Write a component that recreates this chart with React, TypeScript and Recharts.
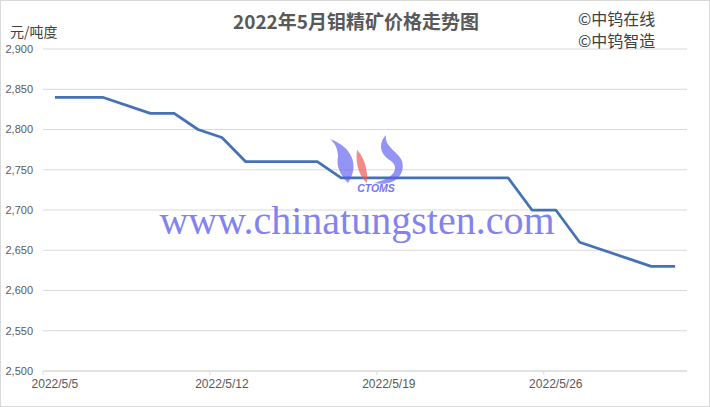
import React from "react"
import { LineChart, Line, XAxis, YAxis, CartesianGrid } from "recharts"

// 交易日（5月的日期）与价格，元/吨度
const days = [5, 6, 7, 9, 10, 11, 12, 13, 16, 17, 18, 19, 20, 23, 24, 25, 26, 27, 30, 31]
const prices = [
  2840, 2840, 2840, 2820, 2820, 2800, 2790, 2760, 2760, 2740,
  2740, 2740, 2740, 2740, 2740, 2700, 2700, 2660, 2630, 2630,
]
const xTicks = [5, 12, 19, 26]
const yTicks = [2500, 2550, 2600, 2650, 2700, 2750, 2800, 2850, 2900]

const data = days.map((d, i) => ({ day: d, price: prices[i] }))

const W = 710
const H = 407
const sans = "'Liberation Sans', Arial, sans-serif"
const cjk = "'Noto Sans CJK SC', 'Liberation Sans', sans-serif"

const DateTick = ({ x, y, payload }: any) => (
  <g>
    <line x1={x - 12} x2={x - 12} y1={y} y2={y + 4} stroke="#d9d9d9" />
    <text x={x} y={y + 17} textAnchor="middle" fill="#595959" fontSize={12} fontFamily={sans}>
      {`2022/5/${payload.value}`}
    </text>
  </g>
)

export default function App() {
  return (
    <div
      style={{
        position: "absolute",
        left: 0,
        top: 0,
        width: W,
        height: H,
        background: "#fff",
        boxSizing: "border-box",
        border: "1px solid #d9d9d9",
        overflow: "hidden",
      }}
    >
      <div style={{ position: "absolute", left: -1, top: -1 }}>
        <LineChart width={W} height={H} data={data} margin={{ top: 49, right: 23, left: 0, bottom: 6 }}>
          <CartesianGrid vertical={false} stroke="#d9d9d9" />
          <XAxis
            dataKey="day"
            type="number"
            domain={[4.5, 31.5]}
            ticks={xTicks}
            interval={0}
            tick={<DateTick />}
            tickSize={0}
            tickMargin={0}
            height={30}
            axisLine={{ stroke: "#d9d9d9" }}
          />
          <YAxis
            domain={[2500, 2900]}
            ticks={yTicks}
            interval={0}
            width={43}
            tickSize={0}
            tickMargin={10}
            axisLine={false}
            tickLine={false}
            tick={{ fill: "#595959", fontSize: 11, fontFamily: sans }}
            tickFormatter={(v: number) => v.toLocaleString("en-US")}
          />
          <Line
            dataKey="price"
            stroke="#4472b4"
            strokeWidth={2.75}
            dot={false}
            isAnimationActive={false}
            strokeLinejoin="round"
          />
        </LineChart>
      </div>

      {/* 水印 */}
      <svg
        width={W}
        height={H}
        style={{ position: "absolute", left: -1, top: -1, pointerEvents: "none" }}
      >
        <g transform="translate(0,-3)">
          <path
            d="M330 142 C352 150 360 168 348 186 C340 178 336 168 338 160 C338 152 335 146 330 142 Z"
            fill="#5a5af0"
            opacity={0.65}
          />
          <path
            d="M357 153 C364 160 368 172 367 186 C360 180 355 168 357 153 Z"
            fill="#f05a5a"
            opacity={0.7}
          />
          <path
            d="M386 138 C377 148 381 158 391 164 C399 170 396 181 374 186 C394 190 406 178 402 164 C398 154 384 150 386 138 Z"
            fill="#5a5af0"
            opacity={0.65}
          />
        </g>
        <text
          x={376}
          y={192}
          textAnchor="middle"
          fontSize={10.5}
          fontStyle="italic"
          fontWeight="bold"
          fill="#6060f0"
          fontFamily={sans}
          opacity={0.85}
        >
          CTOMS
        </text>
        <text
          x={357}
          y={234}
          textAnchor="middle"
          fontSize={40}
          fill="#6e6eee"
          fontFamily="'Liberation Serif', 'Times New Roman', serif"
          opacity={0.85}
        >
          www.chinatungsten.com
        </text>
      </svg>

      <div
        style={{
          position: "absolute",
          left: 0,
          width: W,
          top: 6,
          textAlign: "center",
          fontFamily: cjk,
          fontSize: 19,
          fontWeight: 700,
          color: "#595959",
          lineHeight: "28px",
        }}
      >
        2022年5月钼精矿价格走势图
      </div>
      <div
        style={{
          position: "absolute",
          left: 9,
          top: 19,
          fontFamily: cjk,
          fontSize: 14,
          color: "#404040",
          lineHeight: "22px",
        }}
      >
        元/吨度
      </div>
      <div
        style={{
          position: "absolute",
          left: 577,
          top: 6,
          fontFamily: cjk,
          fontSize: 16,
          color: "#404040",
          lineHeight: "22px",
        }}
      >
        <div>©中钨在线</div>
        <div>©中钨智造</div>
      </div>
    </div>
  )
}
